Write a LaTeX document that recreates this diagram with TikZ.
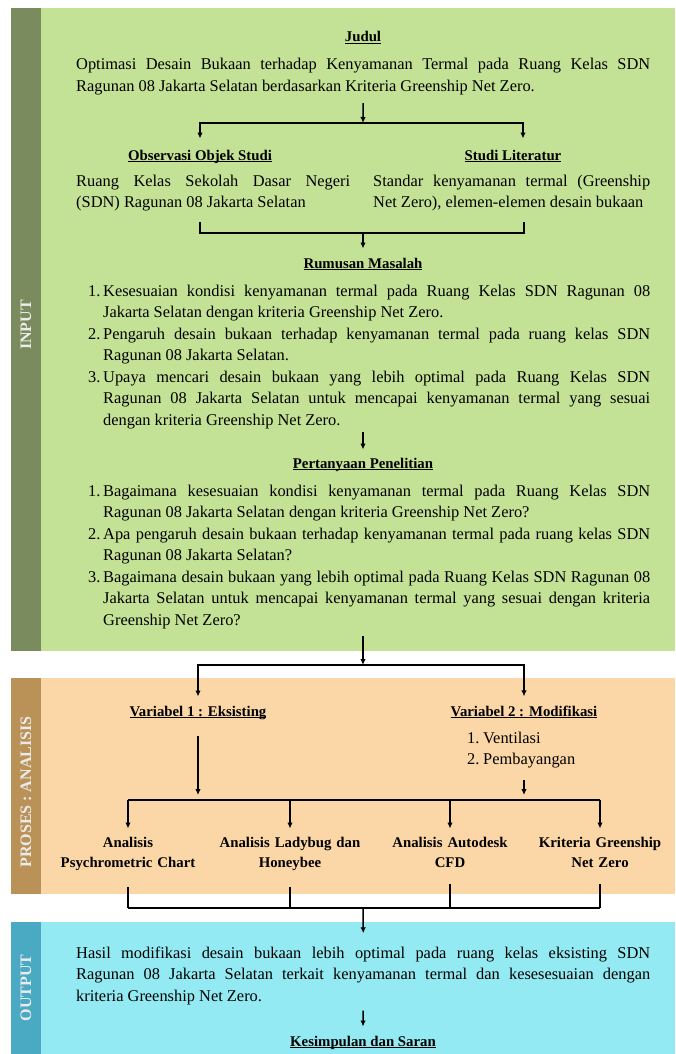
\documentclass[tikz,border=0pt]{standalone}
\usepackage{fontspec}
\setmainfont{Liberation Serif}
\usetikzlibrary{arrows.meta}
\usepackage{xcolor}

\definecolor{grnbody}{RGB}{196,226,150}
\definecolor{grnside}{RGB}{122,140,94}
\definecolor{orgbody}{RGB}{251,214,166}
\definecolor{orgside}{RGB}{186,146,88}
\definecolor{cynbody}{RGB}{148,234,242}
\definecolor{cynside}{RGB}{74,170,196}

\tolerance=10000 \hbadness=10000
\newcommand{\numitem}[3][15pt]{\hangindent=#1\hangafter=1\noindent\hbox to #1{#2\hfil}#3\par}
\newcommand{\undl}[1]{\setbox0\hbox{#1}\rlap{\rule[-2.2pt]{\wd0}{0.8pt}}\box0}

\begin{document}
\begin{tikzpicture}[x=1pt,y=-1pt,
  txt/.style={font=\fontsize{16.4}{21.5}\selectfont, inner sep=0pt, align=justify, anchor=base west},
  hd/.style={font=\fontsize{14.8}{18}\selectfont\bfseries, inner sep=0pt, anchor=base},
  lbl/.style={font=\fontsize{14.8}{20.5}\selectfont\bfseries, inner sep=0pt, align=center, text width=170pt, anchor=base},
  side/.style={font=\fontsize{16}{16}\selectfont\bfseries, text=white!92!black, rotate=90},
  ln/.style={line width=1.5pt},
  arr/.style={ln, -{Latex[length=6pt,width=5.5pt]}}]
\useasboundingbox (0,0) rectangle (675,1054);
% panels
\fill[grnside] (11,8) rectangle (41,651);
\fill[grnbody] (41,8) rectangle (675,651);
\fill[orgside] (11,678) rectangle (41,894);
\fill[orgbody] (41,678) rectangle (675,894);
\fill[cynside] (11,922) rectangle (41,1054);
\fill[cynbody] (41,922) rectangle (675,1054);
\node[side] (sin) at (26,325) {INPUT};
\node[side] (spro) at (26,792) {PROSES : ANALISIS};
\node[side] (sout) at (26,988) {OUTPUT};

% input
\node[hd] (judul) at (363,42) {\undl{Judul}};
\node[txt, text width=574pt] (judtxt) at (76,70) {Optimasi Desain Bukaan terhadap Kenyamanan Termal pada Ruang Kelas SDN\linebreak Ragunan 08 Jakarta Selatan berdasarkan Kriteria Greenship Net Zero.};
\node[hd] (obs) at (200,160) {\undl{Observasi Objek Studi}};
\node[hd] (lit) at (513,160) {\undl{Studi Literatur}};
\node[txt, text width=274pt] (obstxt) at (76,186) {Ruang Kelas Sekolah Dasar Negeri\linebreak (SDN) Ragunan 08 Jakarta Selatan};
\node[txt, text width=277pt] (littxt) at (373,186) {Standar kenyamanan termal (Greenship\linebreak Net Zero), elemen-elemen desain bukaan};
\node[hd] (rum) at (363,268) {\undl{Rumusan Masalah}};
\node[txt, text width=562pt] (rumtxt) at (88,296) {%
\numitem{1.}{Kesesuaian kondisi kenyamanan termal pada Ruang Kelas SDN Ragunan 08\linebreak Jakarta Selatan dengan kriteria Greenship Net Zero.}%
\numitem{2.}{Pengaruh desain bukaan terhadap kenyamanan termal pada ruang kelas SDN\linebreak Ragunan 08 Jakarta Selatan.}%
\numitem{3.}{Upaya mencari desain bukaan yang lebih optimal pada Ruang Kelas SDN\linebreak Ragunan 08 Jakarta Selatan untuk mencapai kenyamanan termal yang sesuai\linebreak dengan kriteria Greenship Net Zero.}};
\node[hd] (pert) at (363,468) {\undl{Pertanyaan Penelitian}};
\node[txt, text width=562pt] (pertxt) at (88,496) {%
\numitem{1.}{Bagaimana kesesuaian kondisi kenyamanan termal pada Ruang Kelas SDN\linebreak Ragunan 08 Jakarta Selatan dengan kriteria Greenship Net Zero?}%
\numitem{2.}{Apa pengaruh desain bukaan terhadap kenyamanan termal pada ruang kelas SDN\linebreak Ragunan 08 Jakarta Selatan?}%
\numitem{3.}{Bagaimana desain bukaan yang lebih optimal pada Ruang Kelas SDN Ragunan 08\linebreak Jakarta Selatan untuk mencapai kenyamanan termal yang sesuai dengan kriteria\linebreak Greenship Net Zero?}};

% proses
\node[hd] (var1) at (198,716) {\undl{Variabel 1 : Eksisting}};
\node[hd] (var2) at (524,716) {\undl{Variabel 2 : Modifikasi}};
\node[txt, align=left, text width=130pt] (vlist) at (467,743) {%
\numitem[16pt]{1.}{Ventilasi}%
\numitem[16pt]{2.}{Pembayangan}};
\node[lbl] (psy) at (128,847) {Analisis\\Psychrometric Chart};
\node[lbl] (lady) at (290,847) {Analisis Ladybug dan\\Honeybee};
\node[lbl] (cfd) at (450,847) {Analisis Autodesk\\CFD};
\node[lbl] (gbci) at (600,847) {Kriteria Greenship\\Net Zero};

% output
\node[txt, text width=574pt] (outtxt) at (76,958) {Hasil modifikasi desain bukaan lebih optimal pada ruang kelas eksisting SDN\linebreak Ragunan 08 Jakarta Selatan terkait kenyamanan termal dan kesesesuaian dengan\linebreak kriteria Greenship Net Zero.};
\node[hd] (kes) at (363,1046) {\undl{Kesimpulan dan Saran}};

% connectors
\coordinate (s1) at (363,123);
\coordinate (b1) at (363,233);
\coordinate (s3) at (363,665);
\coordinate (s4) at (363,800);
\coordinate (s5) at (363,908);
\draw[arr, shorten <=8pt] (judtxt.south) -- (s1);
\draw[arr] (s1) -| ([yshift=11pt]obs.north);
\draw[arr] (s1) -| ([xshift=10pt,yshift=11pt]lit.north);
\draw[ln, shorten <=11pt] (obs.south |- obstxt.south) |- (b1);
\draw[ln, shorten <=11pt] (var2.south |- littxt.south) |- (b1);
\draw[arr] (b1) -- ([yshift=9pt]rum.north);
\draw[arr, shorten <=3pt] (pert.north |- rumtxt.south) -- ([yshift=8pt]pert.north);
\draw[arr, shorten <=7pt] (s3 |- pertxt.south) -- (s3);
\draw[arr] (s3) -| ([yshift=9pt]var1.north);
\draw[arr] (s3) -| ([yshift=9pt]var2.north);
\draw[arr, shorten <=17pt, shorten >=5pt] (var1.south) -- (var1.south |- s4);
\draw[arr, shorten <=12pt, shorten >=5pt] (var2.south |- vlist.south) -- (var2.south |- s4);
\draw[ln] (psy.north |- s4) -- (gbci.north |- s4);
\foreach \n in {psy,lady,cfd,gbci}
  \draw[arr] (\n.north |- s4) -- ([yshift=8pt]\n.north);
\foreach \n in {psy,lady,cfd,gbci}
  \draw[ln, shorten <=16pt] (\n.south) -- (\n.south |- s5);
\draw[ln] (psy.south |- s5) -- (gbci.south |- s5);
\draw[arr] (s5) -- ([yshift=13pt]outtxt.north);
\draw[arr, shorten <=6pt] (outtxt.south) -- ([yshift=9pt]kes.north);
\end{tikzpicture}
\end{document}
